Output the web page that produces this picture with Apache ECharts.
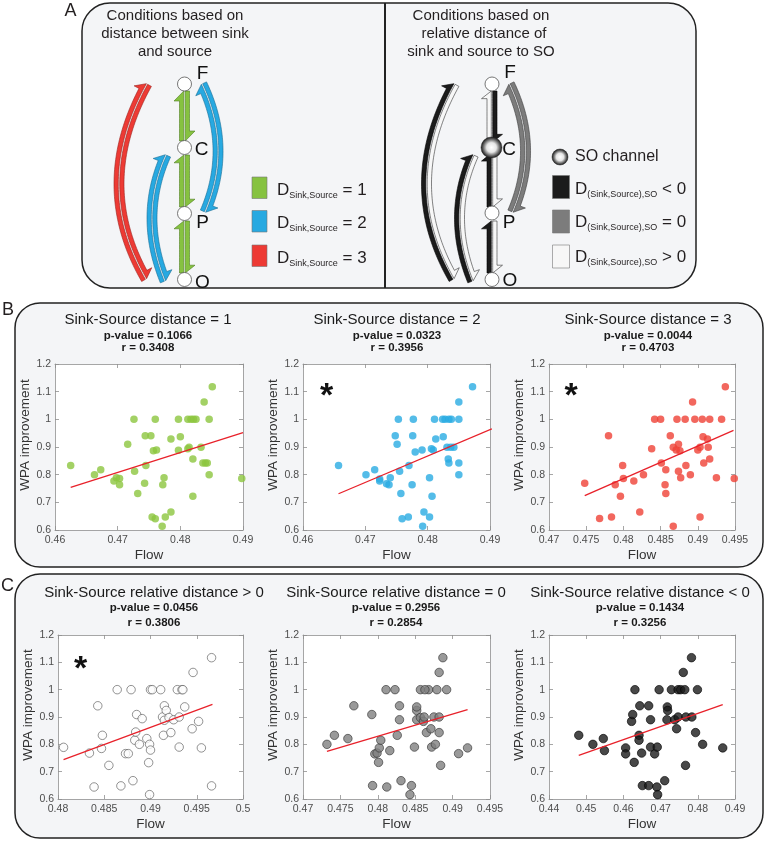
<!DOCTYPE html>
<html><head><meta charset="utf-8">
<script src="https://cdn.jsdelivr.net/npm/echarts@6/dist/echarts.min.js"></script>
<style>html,body{margin:0;padding:0;background:#fff}#c{width:767px;height:841px}</style>
</head><body><div id="c"></div>
<script>
// ================= DATA =================
const plotTitles = ['Sink-Source distance = 1','Sink-Source distance = 2','Sink-Source distance = 3',
  'Sink-Source relative distance > 0','Sink-Source relative distance = 0','Sink-Source relative distance < 0'];
const pValues = ['0.1066','0.0323','0.0044','0.0456','0.2956','0.1434'];
const rValues = ['0.3408','0.3956','0.4703','0.3806','0.2854','0.3256'];
const significant = [false,true,true,true,false,false];
const flowMin = [0.46,0.46,0.47,0.48,0.47,0.44];
const flowMax = [0.49,0.49,0.495,0.5,0.495,0.49];
const flowStep = [0.01,0.01,0.005,0.005,0.005,0.01];
const wpaMin = 0.6, wpaMax = 1.2, wpaStep = 0.1;

const b1Flow = [0.4625,0.4663,0.4673,0.4694,0.4698,0.4703,0.4703,0.4716,0.4726,0.4727,0.4732,0.4743,0.4744,0.4745,0.4753,0.4755,0.4757,0.4760,0.4760,0.4762,0.4771,0.4772,0.4774,0.4776,0.4785,0.4785,0.4797,0.4797,0.4800,0.4812,0.4814,0.4812,0.4817,0.4821,0.4825,0.4820,0.4820,0.4833,0.4836,0.4840,0.4843,0.4838,0.4846,0.4846,0.4851,0.4898];
const b1WPA  = [0.833,0.800,0.818,0.777,0.789,0.786,0.764,0.910,1.0,0.812,0.732,0.769,0.941,0.833,0.941,0.647,0.886,0.641,1.0,0.889,0.614,0.764,0.789,0.647,0.665,0.929,1.0,0.888,0.937,1.0,0.899,0.894,1.0,1.0,1.0,0.857,0.722,0.899,0.842,0.842,0.842,1.063,0.800,1.0,1.118,0.786];

const b2Flow = [0.4657,0.4701,0.4715,0.4723,0.4723,0.4734,0.4738,0.4740,0.4748,0.4751,0.4753,0.4755,0.4757,0.4759,0.4769,0.4770,0.4775,0.4776,0.4777,0.4780,0.4791,0.4792,0.4794,0.4803,0.4803,0.4806,0.4807,0.4809,0.4811,0.4813,0.4824,0.4825,0.4828,0.4831,0.4833,0.4834,0.4834,0.4838,0.4837,0.4842,0.4850,0.4850,0.4850,0.4850,0.4872,0.4903];
const b2WPA  = [0.833,0.800,0.818,0.784,0.777,0.767,0.764,0.789,0.941,0.910,1.0,0.812,0.732,0.641,0.647,0.833,0.764,0.941,1.0,0.882,0.889,0.614,0.665,0.647,0.789,0.894,0.722,0.889,1.0,0.929,1.0,0.937,1.0,0.899,0.857,0.842,1.0,1.0,0.899,0.899,1.063,1.0,0.842,0.800,1.118,0.786];

const b3Flow = [0.4748,0.4768,0.4780,0.4784,0.4789,0.4796,0.4799,0.4800,0.4814,0.4822,0.4827,0.4838,0.4842,0.4850,0.4851,0.4857,0.4856,0.4857,0.4863,0.4867,0.4867,0.4872,0.4871,0.4874,0.4874,0.4877,0.4876,0.4883,0.4884,0.4890,0.4893,0.4896,0.4900,0.4903,0.4903,0.4906,0.4907,0.4908,0.4913,0.4914,0.4916,0.4916,0.4925,0.4932,0.4937,0.4949];
const b3WPA  = [0.769,0.642,0.941,0.647,0.764,0.722,0.833,0.786,0.777,0.665,0.800,0.894,1.0,1.0,0.842,0.818,0.764,0.732,0.941,0.614,0.899,1.0,0.889,0.910,0.812,0.789,0.886,1.0,0.833,0.800,1.063,1.0,0.889,0.899,0.647,1.0,0.937,0.842,0.929,0.899,1.0,0.857,0.789,1.0,1.118,0.786];

const c1Flow = [0.4806,0.4834,0.4839,0.4843,0.4847,0.4848,0.4855,0.4864,0.4868,0.4873,0.4876,0.4879,0.4881,0.4883,0.4884,0.4885,0.4888,0.4891,0.4896,0.4898,0.4899,0.4899,0.4900,0.4900,0.4902,0.4911,0.4913,0.4914,0.4915,0.4915,0.4917,0.4920,0.4922,0.4925,0.4929,0.4931,0.4931,0.4934,0.4935,0.4937,0.4945,0.4946,0.4952,0.4955,0.4966,0.4966];
const c1WPA  = [0.789,0.768,0.644,0.941,0.785,0.833,0.723,1.0,0.648,0.766,0.766,1.0,0.667,0.815,0.845,0.909,0.800,0.894,0.821,0.733,0.616,0.800,0.779,1.0,1.0,1.0,0.900,0.833,0.941,0.888,0.924,0.898,0.843,0.890,1.0,0.900,0.790,1.0,1.0,0.937,0.857,1.063,0.884,0.787,1.117,0.648];

const c2Flow = [0.4732,0.4742,0.4760,0.4768,0.4792,0.4793,0.4796,0.4799,0.4801,0.4802,0.4804,0.4811,0.4812,0.4816,0.4823,0.4826,0.4829,0.4829,0.4831,0.4843,0.4845,0.4849,0.4852,0.4852,0.4852,0.4857,0.4857,0.4861,0.4862,0.4865,0.4868,0.4871,0.4872,0.4875,0.4877,0.4879,0.4882,0.4882,0.4882,0.4884,0.4892,0.4887,0.4908,0.4920,0.4863];
const c2WPA  = [0.800,0.833,0.821,0.941,0.909,0.649,0.765,0.768,0.734,0.787,0.815,1.0,0.644,0.777,1.0,0.833,0.941,0.890,0.667,0.616,0.649,0.790,0.924,0.937,0.890,1.0,0.898,0.884,0.900,0.843,1.0,0.857,0.790,0.900,0.800,1.0,0.843,1.063,0.900,0.723,1.0,1.117,0.766,0.787,1.0];

const c3Flow = [0.4480,0.4518,0.4546,0.4549,0.4606,0.4606,0.4622,0.4625,0.4629,0.4631,0.4642,0.4642,0.4644,0.4649,0.4651,0.4668,0.4668,0.4673,0.4673,0.4684,0.4690,0.4691,0.4692,0.4696,0.4711,0.4718,0.4719,0.4717,0.4729,0.4738,0.4743,0.4747,0.4747,0.4754,0.4765,0.4761,0.4767,0.4768,0.4783,0.4784,0.4794,0.4799,0.4813,0.4867];
const c3WPA  = [0.833,0.800,0.821,0.777,0.787,0.765,0.884,0.909,0.734,1.0,0.833,0.815,0.941,0.768,0.649,0.649,0.941,0.890,0.790,0.765,0.644,0.790,0.616,1.0,0.667,0.937,0.924,0.890,1.0,0.890,0.857,0.900,1.0,1.0,1.0,1.063,0.723,0.900,1.117,0.900,0.843,1.0,0.800,0.787];

// regression line end points [flow, wpa]
const fitB1 = [[0.4625,0.754],[0.4900,0.952]];
const fitB2 = [[0.4657,0.731],[0.4903,0.966]];
const fitB3 = [[0.4748,0.724],[0.4948,0.960]];
const fitC1 = [[0.4806,0.744],[0.4967,0.946]];
const fitC2 = [[0.4732,0.774],[0.4920,0.927]];
const fitC3 = [[0.4480,0.760],[0.4867,0.945]];

// ================= LAYOUT / STYLE =================
const FF = 'Liberation Sans, Arial, Helvetica, sans-serif';
const flows = [b1Flow,b2Flow,b3Flow,c1Flow,c2Flow,c3Flow];
const wpas = [b1WPA,b2WPA,b3WPA,c1WPA,c2WPA,c3WPA];
const fits = [fitB1,fitB2,fitB3,fitC1,fitC2,fitC3];
const grids = [
  {left:55, top:364, width:188, height:166},
  {left:303, top:364, width:187, height:166},
  {left:549, top:364, width:186, height:166},
  {left:58, top:635, width:185, height:164},
  {left:303, top:635, width:187, height:164},
  {left:549, top:635, width:186, height:164}];
const titleCx = [148,397,648,154,396,640];
const titleY = [320,320,320,593,593,593];
const pY = [336,336,336,608,608,608];
const rY = [348,348,348,623,623,623];
const starPos = [null,[326.5,388.5],[571,388.5],[80.5,662],null,null];
const markers = [
  {size:7.5, item:{color:'#8cc63f'}},
  {size:7.5, item:{color:'#29abe2'}},
  {size:7.5, item:{color:'#ef4136'}},
  {size:8.5, item:{color:'#fcfcfc', borderColor:'#555', borderWidth:0.8}},
  {size:8.5, item:{color:'#808080', borderColor:'#333', borderWidth:0.8}},
  {size:8.5, item:{color:'#1a1a1a', borderColor:'#000', borderWidth:0.8}}];
const axC = '#8f8f8f';

const xAxis=[], yAxis=[], series=[];
for (let i=0;i<6;i++){
  const common = {gridIndex:i, type:'value', axisLine:{show:true,onZero:false,lineStyle:{color:axC,width:0.8}},
    axisTick:{show:true,inside:true,length:4,lineStyle:{color:axC,width:0.8}}, splitLine:{show:false}};
  xAxis.push(Object.assign({}, common, {position:'bottom', min:flowMin[i], max:flowMax[i], interval:flowStep[i],
    axisLabel:{color:'#4d4d4d', fontSize:10.5, margin:5, fontFamily:FF, showMinLabel:true, showMaxLabel:true},
    name:'Flow', nameLocation:'middle', nameGap:18, nameTextStyle:{color:'#333', fontSize:13.5, fontFamily:FF}}));
  xAxis.push(Object.assign({}, common, {position:'top', min:flowMin[i], max:flowMax[i], interval:flowStep[i], axisLabel:{show:false}}));
  yAxis.push(Object.assign({}, common, {position:'left', min:wpaMin, max:wpaMax, interval:wpaStep,
    axisLabel:{color:'#4d4d4d', fontSize:10.5, margin:4, fontFamily:FF, showMinLabel:true, showMaxLabel:true},
    name:'WPA improvement', nameLocation:'middle', nameGap:22,
    nameTextStyle:{color:'#333', fontSize:13.5, fontFamily:FF, padding:[0,0,0,24]}}));
  yAxis.push(Object.assign({}, common, {position:'right', min:wpaMin, max:wpaMax, interval:wpaStep, axisLabel:{show:false}}));
  series.push({type:'scatter', xAxisIndex:2*i, yAxisIndex:2*i, data:flows[i].map((x,k)=>[x,wpas[i][k]]),
    symbolSize:markers[i].size, itemStyle:markers[i].item, z:3, silent:true});
  series.push({type:'line', xAxisIndex:2*i, yAxisIndex:2*i, data:fits[i], symbol:'none',
    lineStyle:{color:'#e8212a', width:1.3}, z:4, silent:true});
}

// ================= GRAPHIC (panels, texts, schematic) =================
const G = [];
const txt = (x,y,text,o={}) => G.push({type:'text', x, y, z:10, style:Object.assign({text, fontFamily:FF, fontSize:15, fill:'#231f20', align:'center', verticalAlign:'middle'}, o)});

// panel boxes
G.push({type:'rect', z:-1, shape:{x:82,y:3,width:614,height:285,r:28}, style:{fill:'#f4f5f7', stroke:'#222', lineWidth:1.5}});
G.push({type:'line', z:-1, shape:{x1:385,y1:3,x2:385,y2:288}, style:{stroke:'#222', lineWidth:2}});
G.push({type:'rect', z:-1, shape:{x:15,y:303,width:748,height:264,r:25}, style:{fill:'#f4f5f7', stroke:'#222', lineWidth:1.5}});
G.push({type:'rect', z:-1, shape:{x:15,y:574,width:748,height:264,r:25}, style:{fill:'#f4f5f7', stroke:'#222', lineWidth:1.5}});

// panel letters
txt(70.5,11.5,'A',{fontSize:18});
txt(8,310.5,'B',{fontSize:18});
txt(7.5,586,'C',{fontSize:18});

// plot titles
for (let i=0;i<6;i++){
  txt(titleCx[i], titleY[i], plotTitles[i], {fontSize:15, fill:'#1a1a1a'});
  txt(titleCx[i], pY[i], 'p-value = '+pValues[i], {fontSize:11.5, fontWeight:'bold', fill:'#1a1a1a'});
  txt(titleCx[i], rY[i], 'r = '+rValues[i], {fontSize:11.5, fontWeight:'bold', fill:'#1a1a1a'});
  if (significant[i] && starPos[i]) txt(starPos[i][0], starPos[i][1]+8, '*', {fontSize:34, fontWeight:'bold', fill:'#111'});
}

// panel A titles
txt(175,16,'Conditions based on'); txt(175,33.5,'distance between sink'); txt(175,51.5,'and source');
txt(481,16,'Conditions based on'); txt(484,33.5,'relative distance of'); txt(481,51.5,'sink and source to SO');

// schematic helpers
function sampleQuad(p0,c,p2,n){const pts=[];for(let i=0;i<=n;i++){const t=i/n,a=(1-t)*(1-t),b=2*(1-t)*t,d=t*t;pts.push([a*p0[0]+b*c[0]+d*p2[0],a*p0[1]+b*c[1]+d*p2[1]]);}return pts;}
function sampleLine(p0,p1,n){const pts=[];for(let i=0;i<=n;i++){const t=i/n;pts.push([p0[0]+(p1[0]-p0[0])*t,p0[1]+(p1[1]-p0[1])*t]);}return pts;}
function harpoon(pts, fill, stroke){
  const g=0.7, w=4.3, hb=5.5, L=10;
  const s=[0]; for(let i=1;i<pts.length;i++) s.push(s[i-1]+Math.hypot(pts[i][0]-pts[i-1][0],pts[i][1]-pts[i-1][1]));
  const S=s[s.length-1];
  const nrm=pts.map((p,i)=>{const a=pts[Math.max(0,i-1)],b=pts[Math.min(pts.length-1,i+1)];let dx=b[0]-a[0],dy=b[1]-a[1];const l=Math.hypot(dx,dy);return [dy/l,-dx/l];});
  const off=(i,d)=>[pts[i][0]+nrm[i][0]*d, pts[i][1]+nrm[i][1]*d];
  let bi=s.findIndex(v=>v>=S-L); if(bi<1) bi=1;
  const poly=[];
  for(let i=0;i<pts.length;i++) poly.push(off(i,g));
  poly.push(off(bi,g+w+hb)); poly.push(off(bi,g+w));
  for(let i=bi-1;i>=0;i--) poly.push(off(i,g+w));
  G.push({type:'polygon', z:5, shape:{points:poly}, style:{fill, stroke, lineWidth:0.6}});
}
function dbl(pts, upC, downC){ harpoon(pts, upC[0], upC[1]); harpoon(pts.slice().reverse(), downC[0], downC[1]); }

const GR=['#86c240','#4f7d22'], BL=['#27a9e1','#1a6d94'], RD=['#ed3a34','#9a211d'];
const BK=['#1b1b1b','#000'], GY=['#7c7c7c','#3a3a3a'], WH=['#f7f7f7','#333'];

// left schematic (x centre 184.5)
const segs=[[91,141],[155,207],[221,273]];
function straight(cx, seg, upC, downC){ dbl(sampleLine([cx,seg[1]],[cx,seg[0]],20), upC, downC); }
segs.forEach(sg=>straight(184.5, sg, GR, GR));
dbl(sampleQuad([146,279],[91.5,184.5],[147,84],60), RD, RD);
dbl(sampleQuad([165,281],[138.5,216],[166,155],50), BL, BL);
dbl(sampleQuad([205,212],[232.5,148],[202,84],50), BL, BL);
[[184.5,84],[184.5,147.5],[184.5,213.5],[184.5,279.5]].forEach(p=>G.push({type:'circle',z:6,shape:{cx:p[0],cy:p[1],r:7},style:{fill:'#fff',stroke:'#555',lineWidth:0.8}}));
txt(202.5,74,'F',{fontSize:19,fill:'#111'}); txt(201.5,150,'C',{fontSize:19,fill:'#111'});
txt(202.5,222.5,'P',{fontSize:19,fill:'#111'}); txt(202.5,282.5,'O',{fontSize:19,fill:'#111'});

// right schematic (x centre 492)
const dx=307.5;
straight(492,[91,142],WH,BK);
straight(492,[153,207],BK,WH);
straight(492,[221,273],BK,WH);
dbl(sampleQuad([146+dx,279],[91.5+dx,184.5],[147+dx,84],60), BK, WH);
dbl(sampleQuad([165+dx,281],[138.5+dx,216],[166+dx,155],50), BK, WH);
dbl(sampleQuad([205+dx,212],[232.5+dx,148],[202+dx,84],50), GY, GY);
[[492,84],[492,213],[492,279.5]].forEach(p=>G.push({type:'circle',z:6,shape:{cx:p[0],cy:p[1],r:7},style:{fill:'#fff',stroke:'#555',lineWidth:0.8}}));
const soStops = [{offset:0,color:'#ffffff'},{offset:0.45,color:'#e6e6e6'},{offset:0.8,color:'#5a5a5a'},{offset:1,color:'#111'}];
G.push({type:'circle',z:7,shape:{cx:491.5,cy:147.5,r:10.5},style:{fill:new echarts.graphic.RadialGradient(0.5,0.5,0.5,soStops),stroke:'#222',lineWidth:0.5}});
txt(510,72.5,'F',{fontSize:19,fill:'#111'}); txt(509,150,'C',{fontSize:19,fill:'#111'});
txt(509,222.5,'P',{fontSize:19,fill:'#111'}); txt(510,281,'O',{fontSize:19,fill:'#111'});

// legends
const rich = {d:{fontSize:17, fill:'#231f20', fontFamily:FF, lineHeight:20}, s:{fontSize:9, fill:'#231f20', fontFamily:FF, lineHeight:9, verticalAlign:'bottom'}};
[[177,GR,'1',190],[210.5,BL,'2',223],[245,RD,'3',258]].forEach(([y,c,v,ty])=>{
  G.push({type:'rect',z:6,shape:{x:252,y,width:15,height:21.5},style:{fill:c[0],stroke:'#777',lineWidth:0.6}});
  G.push({type:'text',x:277,y:ty,z:10,style:{text:'{d|D}{s|Sink,Source}{d| = '+v+'}',rich,align:'left',verticalAlign:'middle'}});
});
G.push({type:'circle',z:7,shape:{cx:560,cy:157,r:8},style:{fill:new echarts.graphic.RadialGradient(0.5,0.5,0.5,soStops),stroke:'#222',lineWidth:0.5}});
txt(575,157,'SO channel',{align:'left',fontSize:16});
[[175.5,BK,'< 0',189],[210,GY,'= 0',222],[245,WH,'> 0',257]].forEach(([y,c,v,ty])=>{
  G.push({type:'rect',z:6,shape:{x:552.5,y,width:17,height:23},style:{fill:c[0],stroke:'#777',lineWidth:0.6}});
  G.push({type:'text',x:575,y:ty,z:10,style:{text:'{d|D}{s|(Sink,Source),SO}{d| '+v+'}',rich,align:'left',verticalAlign:'middle'}});
});

const chart = echarts.init(document.getElementById('c'), null, {renderer:'canvas'});
chart.setOption({animation:false, backgroundColor:'#fff',
  grid: grids.map(g=>Object.assign({show:true, backgroundColor:'#fff', borderWidth:0}, g)),
  xAxis, yAxis, series, graphic:{elements:G}});
</script></body></html>
